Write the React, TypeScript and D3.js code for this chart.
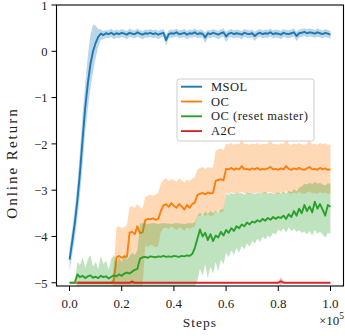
import React from 'react';
import * as d3 from 'd3';

// x positions in units of 1e5 steps (0.00 .. 1.00)
const STEPS: number[] = d3.range(0, 101).map((i) => i / 100);

const MSOL_MEAN = [-4.50,-4.12,-3.72,-3.22,-2.62,-1.90,-1.22,-0.70,-0.28,0.00,
 0.18,0.31,0.38,0.35,0.39,0.37,0.40,0.36,0.39,0.37,
 0.40,0.38,0.36,0.40,0.38,0.37,0.41,0.38,0.36,0.39,
 0.38,0.40,0.37,0.39,0.36,0.38,0.40,0.24,0.37,0.39,
 0.38,0.41,0.37,0.38,0.40,0.36,0.39,0.38,0.41,0.37,
 0.39,0.38,0.30,0.39,0.37,0.40,0.38,0.36,0.39,0.41,
 0.32,0.38,0.40,0.37,0.39,0.38,0.36,0.40,0.38,0.37,
 0.39,0.33,0.38,0.40,0.37,0.39,0.38,0.41,0.37,0.39,
 0.38,0.36,0.40,0.38,0.37,0.39,0.41,0.33,0.39,0.40,
 0.42,0.39,0.41,0.40,0.38,0.41,0.39,0.37,0.40,0.38,
 0.36];
const MSOL_HI = [-4.25,-3.85,-3.40,-2.85,-2.15,-1.35,-0.70,-0.10,0.35,0.58,
 0.55,0.48,0.47,0.44,0.46,0.45,0.49,0.44,0.47,0.45,
 0.48,0.46,0.44,0.49,0.46,0.45,0.49,0.46,0.44,0.47,
 0.46,0.48,0.45,0.47,0.44,0.46,0.48,0.36,0.45,0.47,
 0.46,0.49,0.45,0.46,0.48,0.44,0.47,0.46,0.49,0.45,
 0.47,0.46,0.40,0.47,0.45,0.48,0.46,0.44,0.47,0.49,
 0.42,0.46,0.48,0.45,0.47,0.46,0.44,0.48,0.46,0.45,
 0.47,0.42,0.46,0.48,0.45,0.47,0.46,0.49,0.45,0.47,
 0.46,0.44,0.48,0.46,0.45,0.47,0.49,0.42,0.47,0.48,
 0.50,0.47,0.49,0.48,0.46,0.49,0.47,0.45,0.48,0.46,
 0.44];
const MSOL_LO = [-4.75,-4.40,-4.05,-3.60,-3.10,-2.45,-1.75,-1.25,-0.80,-0.45,
 -0.15,0.10,0.25,0.26,0.30,0.28,0.31,0.26,0.30,0.28,
 0.31,0.29,0.26,0.31,0.29,0.28,0.32,0.29,0.26,0.30,
 0.29,0.31,0.28,0.30,0.26,0.29,0.31,0.12,0.28,0.30,
 0.29,0.32,0.28,0.29,0.31,0.26,0.30,0.29,0.32,0.28,
 0.30,0.29,0.18,0.30,0.28,0.31,0.29,0.26,0.30,0.32,
 0.20,0.29,0.31,0.28,0.30,0.29,0.26,0.31,0.29,0.28,
 0.30,0.22,0.29,0.31,0.28,0.30,0.29,0.32,0.28,0.30,
 0.29,0.26,0.31,0.29,0.28,0.30,0.32,0.22,0.30,0.31,
 0.33,0.30,0.32,0.31,0.29,0.32,0.30,0.28,0.31,0.29,
 0.27];

const OC_MEAN = [-5,-5,-5,-5,-5,-5,-5,-5,-5,-5,
 -5,-5,-5,-5,-5,-5,-5,-4.95,-4.45,-4.42,
 -4.46,-4.43,-4.44,-3.92,-3.90,-3.95,-3.78,-3.93,-3.91,-3.65,
 -3.62,-3.63,-3.61,-3.64,-3.62,-3.45,-3.33,-3.30,-3.36,-3.28,
 -3.34,-3.38,-3.30,-3.35,-3.42,-3.32,-3.38,-3.30,-3.27,-3.10,
 -3.08,-3.06,-3.09,-3.05,-3.07,-3.06,-2.80,-2.78,-2.76,-2.79,
 -2.54,-2.55,-2.52,-2.56,-2.53,-2.55,-2.48,-2.55,-2.54,-2.56,
 -2.53,-2.55,-2.52,-2.56,-2.54,-2.55,-2.53,-2.50,-2.55,-2.54,
 -2.56,-2.53,-2.55,-2.48,-2.54,-2.56,-2.53,-2.55,-2.52,-2.55,
 -2.56,-2.53,-2.50,-2.55,-2.54,-2.56,-2.52,-2.55,-2.53,-2.56,
 -2.55];
const OC_HI = [-5,-5,-5,-5,-5,-5,-5,-5,-5,-5,
 -5,-5,-5,-5,-5,-5,-5,-4.60,-3.80,-3.78,
 -3.82,-3.80,-3.75,-3.37,-3.35,-3.38,-3.30,-3.37,-3.40,-3.15,
 -3.12,-3.10,-3.12,-3.10,-3.05,-2.85,-2.78,-2.74,-2.80,-2.76,
 -2.79,-2.82,-2.75,-2.78,-2.84,-2.77,-2.80,-2.75,-2.72,-2.55,
 -2.52,-2.50,-2.54,-2.50,-2.52,-2.51,-2.15,-2.12,-2.10,-2.14,
 -2.00,-2.01,-1.98,-2.02,-1.99,-2.01,-1.90,-2.01,-2.00,-2.02,
 -1.99,-2.01,-1.98,-2.02,-2.00,-2.01,-1.99,-1.92,-2.01,-2.00,
 -2.02,-1.99,-2.01,-1.88,-2.00,-2.02,-1.99,-2.01,-1.98,-2.01,
 -2.02,-1.99,-1.93,-2.01,-2.00,-2.02,-1.98,-2.01,-1.99,-2.02,
 -2.01];
const OC_LO = [-5,-5,-5,-5,-5,-5,-5,-5,-5,-5,
 -5,-5,-5,-5,-5,-5,-5,-5.10,-5.08,-5.08,
 -5.08,-5.08,-5.08,-5.08,-5.08,-5.08,-5.08,-5.08,-5.08,-4.20,
 -4.22,-4.18,-4.20,-4.24,-4.20,-3.90,-3.82,-3.80,-3.85,-3.78,
 -3.82,-3.86,-3.80,-3.83,-3.88,-3.80,-3.84,-3.80,-3.78,-3.55,
 -3.56,-3.53,-3.55,-3.52,-3.56,-3.54,-3.47,-3.46,-3.48,-3.45,
 -3.06,-3.08,-3.04,-3.07,-3.05,-3.08,-3.03,-3.07,-3.06,-3.09,
 -3.05,-3.07,-3.04,-3.08,-3.06,-3.07,-3.05,-3.03,-3.07,-3.06,
 -3.08,-3.05,-3.07,-3.02,-3.06,-3.08,-3.05,-3.07,-3.04,-3.07,
 -3.08,-3.05,-3.03,-3.07,-3.06,-3.08,-3.04,-3.07,-3.05,-3.08,
 -3.07];

const OCR_MEAN = [-5,-5,-5,-4.82,-4.88,-4.85,-4.90,-4.86,-4.84,-4.89,
 -4.87,-4.90,-4.85,-4.88,-4.86,-4.91,-4.87,-4.84,-4.86,-4.82,
 -4.85,-4.80,-4.78,-4.80,-4.76,-4.72,-4.70,-4.48,-4.45,-4.44,
 -4.46,-4.43,-4.44,-4.45,-4.43,-4.44,-4.42,-4.44,-4.43,-4.44,
 -4.42,-4.43,-4.44,-4.42,-4.43,-4.41,-4.42,-4.38,-4.25,-4.05,
 -3.85,-4.00,-3.92,-4.08,-3.95,-4.10,-3.98,-4.02,-3.90,-3.98,
 -3.86,-3.92,-3.82,-3.88,-3.78,-3.82,-3.74,-3.78,-3.70,-3.74,
 -3.68,-3.70,-3.65,-3.68,-3.62,-3.66,-3.60,-3.64,-3.58,-3.62,
 -3.58,-3.60,-3.55,-3.62,-3.52,-3.58,-3.45,-3.55,-3.40,-3.50,
 -3.32,-3.45,-3.35,-3.48,-3.25,-3.40,-3.30,-3.42,-3.55,-3.32,
 -3.36];
const OCR_HI = [-5,-5,-5,-4.55,-4.62,-4.45,-4.68,-4.50,-4.40,-4.65,
 -4.55,-4.70,-4.42,-4.60,-4.52,-4.72,-4.48,-4.40,-4.58,-4.45,
 -4.55,-4.38,-4.50,-4.42,-4.35,-4.40,-4.30,-3.72,-3.72,-3.71,
 -3.73,-3.72,-3.71,-3.72,-3.73,-3.72,-3.71,-3.72,-3.72,-3.73,
 -3.72,-3.71,-3.72,-3.72,-3.73,-3.72,-3.71,-3.72,-3.70,-3.55,
 -3.48,-3.55,-3.46,-3.52,-3.45,-3.50,-3.44,-3.48,-3.42,-3.40,
 -3.08,-3.10,-3.06,-3.09,-3.05,-3.08,-3.06,-3.10,-3.05,-3.07,
 -3.06,-3.09,-3.05,-3.08,-3.06,-3.04,-3.07,-3.05,-3.08,-3.06,
 -3.05,-3.07,-3.04,-3.06,-3.02,-3.05,-2.98,-3.03,-2.95,-2.92,
 -2.86,-2.88,-2.84,-2.87,-2.82,-2.86,-2.84,-2.88,-2.90,-2.85,
 -2.86];
const OCR_LO = [-5,-5,-5,-5.08,-5.08,-5.08,-5.08,-5.08,-5.08,-5.08,
 -5.08,-5.08,-5.08,-5.08,-5.08,-5.08,-5.08,-5.08,-5.08,-5.08,
 -5.08,-5.08,-5.08,-5.08,-5.08,-5.08,-5.08,-5.10,-5.10,-5.10,
 -5.10,-5.10,-5.10,-5.10,-5.10,-5.10,-5.10,-5.10,-5.10,-5.10,
 -5.10,-5.10,-5.10,-5.10,-5.10,-5.10,-5.10,-5.10,-5.10,-4.95,
 -4.70,-4.85,-4.60,-4.90,-4.65,-4.80,-4.55,-4.75,-4.50,-4.60,
 -4.35,-4.45,-4.30,-4.40,-4.25,-4.35,-4.20,-4.28,-4.15,-4.22,
 -4.10,-4.15,-4.05,-4.12,-4.00,-4.06,-3.98,-4.02,-3.92,-3.96,
 -3.85,-3.90,-3.82,-3.92,-3.80,-3.88,-3.84,-3.90,-3.86,-3.92,
 -3.90,-3.95,-3.88,-3.98,-3.86,-3.94,-3.90,-3.96,-4.02,-3.92,
 -3.94];

const A2C_MEAN: (number | null)[] = [null,null,null,-5,-5,-5,-5,-5,-5,-5,
 -5,-5,-5,-5,-5,-5,-5,-5,-5,-5,
 -5,-5,-5,-5,-4.98,-5,-5,-5,-5,-5,
 -5,-5,-5,-5,-5,-5,-5,-5,-5,-5,
 -5,-5,-5,-5,-5,-5,-5,-5,-5,-5,
 -5,-5,-5,-5,-5,-5,-5,-5,-5,-5,
 -5,-5,-5,-5,-5,-5,-5,-5,-5,-5,
 -5,-5,-5,-5,-5,-5,-5,-5,-5,-5,
 -5,-4.97,-5,-5,-5,-5,-5,-5,-5,-5,
 -5,-5,-5,-5,-5,-5,-5,-5,-5,-5,
 -5];
const A2C_HI: (number | null)[] = [null,null,null,-5,-5,-5,-5,-5,-5,-5,
 -5,-5,-5,-5,-5,-5,-5,-5,-5,-5,
 -5,-5,-5,-4.99,-4.93,-4.99,-5,-5,-5,-5,
 -5,-5,-5,-5,-5,-5,-5,-5,-5,-5,
 -5,-5,-5,-5,-5,-5,-5,-5,-5,-5,
 -5,-5,-5,-5,-5,-5,-5,-5,-5,-5,
 -5,-5,-5,-5,-5,-5,-5,-5,-5,-5,
 -5,-5,-5,-5,-5,-5,-5,-5,-5,-5,
 -4.97,-4.88,-4.97,-5,-5,-5,-5,-5,-5,-5,
 -5,-5,-5,-5,-5,-5,-5,-5,-5,-5,
 -5];
const A2C_LO: (number | null)[] = [null,null,null,-5,-5,-5,-5,-5,-5,-5,
 -5,-5,-5,-5,-5,-5,-5,-5,-5,-5,
 -5,-5,-5,-5,-5.03,-5,-5,-5,-5,-5,
 -5,-5,-5,-5,-5,-5,-5,-5,-5,-5,
 -5,-5,-5,-5,-5,-5,-5,-5,-5,-5,
 -5,-5,-5,-5,-5,-5,-5,-5,-5,-5,
 -5,-5,-5,-5,-5,-5,-5,-5,-5,-5,
 -5,-5,-5,-5,-5,-5,-5,-5,-5,-5,
 -5,-5.06,-5,-5,-5,-5,-5,-5,-5,-5,
 -5,-5,-5,-5,-5,-5,-5,-5,-5,-5,
 -5];

const SERIES_NAMES = ['MSOL', 'OC', 'OC (reset master)', 'A2C'];
const SERIES_COLORS = ['#1f77b4', '#ff7f0e', '#2ca02c', '#d62728'];
const X_TICKS = [0, 0.2, 0.4, 0.6, 0.8, 1.0];
const X_TICK_LABELS = ['0.0', '0.2', '0.4', '0.6', '0.8', '1.0'];
const Y_TICKS = [1, 0, -1, -2, -3, -4, -5];
const Y_TICK_LABELS = ['1', '0', '\u22121', '\u22122', '\u22123', '\u22124', '\u22125'];
const X_LABEL = 'Steps';
const Y_LABEL = 'Online Return';

const FONT = "'Liberation Serif', 'DejaVu Serif', serif";

export default function App() {
  const W = 345, H = 336;
  const L = 56.5, R = 343.5, T = 5, B = 286;
  const x = d3.scaleLinear().domain([-0.05, 1.05]).range([L, R]);
  const y = d3.scaleLinear().domain([-5.07, 1]).range([B, T]);

  const series = [
    { mean: MSOL_MEAN, lo: MSOL_LO, hi: MSOL_HI },
    { mean: OC_MEAN, lo: OC_LO, hi: OC_HI },
    { mean: OCR_MEAN, lo: OCR_LO, hi: OCR_HI },
    { mean: A2C_MEAN, lo: A2C_LO, hi: A2C_HI },
  ].map((s, k) => ({ ...s, name: SERIES_NAMES[k], color: SERIES_COLORS[k] }));

  const lineGen = d3
    .line<number | null>()
    .defined((v) => v != null)
    .x((_, i) => x(STEPS[i]))
    .y((v) => y(v as number));

  const areaPath = (lo: (number | null)[], hi: (number | null)[]) =>
    d3
      .area<number>()
      .defined((i) => lo[i] != null && hi[i] != null)
      .x((i) => x(STEPS[i]))
      .y0((i) => y(lo[i] as number))
      .y1((i) => y(hi[i] as number))(d3.range(STEPS.length));

  const legendX = 177, legendY = 79, legendW = 137, legendH = 62;

  return (
    <svg
      width={W}
      height={H}
      style={{ position: 'absolute', left: 0, top: 0, background: '#fff' }}
      fontFamily={FONT}
    >
      <defs>
        <clipPath id="plotclip">
          <rect x={L} y={T} width={R - L} height={B - T} />
        </clipPath>
      </defs>
      <rect x={0} y={0} width={W} height={H} fill="#fff" />
      <g clipPath="url(#plotclip)">
        {series.map((s) => (
          <g key={s.name}>
            <path d={areaPath(s.lo, s.hi) || ''} fill={s.color} fillOpacity={0.3} stroke="none" />
            <path
              d={lineGen(s.mean) || ''}
              fill="none"
              stroke={s.color}
              strokeWidth={1.9}
              strokeLinejoin="round"
            />
          </g>
        ))}
      </g>

      {/* spines */}
      <rect x={L} y={T} width={R - L} height={B - T} fill="none" stroke="#000" strokeWidth={1.1} />

      {/* y ticks */}
      {Y_TICKS.map((t, k) => (
        <g key={'y' + t}>
          <line x1={L - 5} x2={L} y1={y(t)} y2={y(t)} stroke="#000" strokeWidth={1} />
          <text x={L - 9} y={y(t)} dy="0.38em" textAnchor="end" fontSize={12.5} fill="#222">
            {Y_TICK_LABELS[k]}
          </text>
        </g>
      ))}

      {/* x ticks */}
      {X_TICKS.map((t, k) => (
        <g key={'x' + t}>
          <line x1={x(t)} x2={x(t)} y1={B} y2={B + 5} stroke="#000" strokeWidth={1} />
          <text x={x(t)} y={307.5} textAnchor="middle" fontSize={13} fill="#222">
            {X_TICK_LABELS[k]}
          </text>
        </g>
      ))}

      {/* axis labels */}
      <text x={(L + R) / 2} y={326.5} textAnchor="middle" fontSize={13.5} letterSpacing={1} fill="#222">
        {X_LABEL}
      </text>
      <text
        transform={`translate(17, 163) rotate(-90)`}
        textAnchor="middle"
        fontSize={15}
        letterSpacing={2}
        fill="#222"
      >
        {Y_LABEL}
      </text>
      <text x={344} y={325} textAnchor="end" fontSize={13} fill="#222">
        ×10<tspan dy={-6} fontSize={9.5}>5</tspan>
      </text>

      {/* legend */}
      <rect
        x={legendX}
        y={legendY}
        width={legendW}
        height={legendH}
        rx={2.5}
        fill="#fff"
        fillOpacity={0.8}
        stroke="#cccccc"
        strokeWidth={1}
      />
      {series.map((s, k) => {
        const ly = legendY + 7.7 + k * 14.8;
        return (
          <g key={'lg' + s.name}>
            <line x1={legendX + 4} x2={legendX + 25} y1={ly} y2={ly} stroke={s.color} strokeWidth={1.9} />
            <text x={legendX + 34} y={ly} dy="0.33em" fontSize={12.5} letterSpacing={0.5} fill="#222">
              {s.name}
            </text>
          </g>
        );
      })}
    </svg>
  );
}
